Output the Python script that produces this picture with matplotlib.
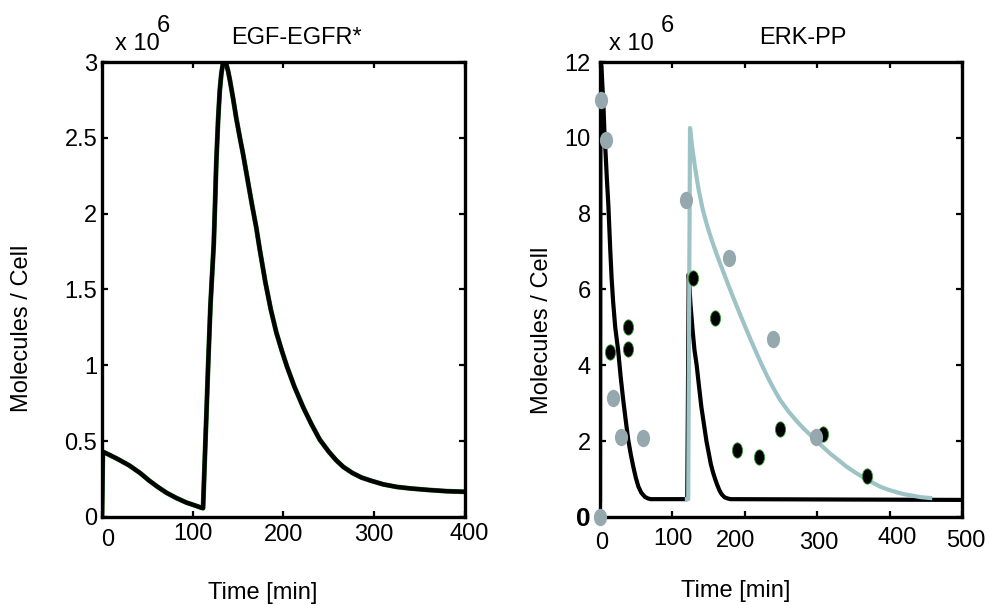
import numpy as np
import matplotlib
matplotlib.use("Agg")
import matplotlib.pyplot as plt
from matplotlib.path import Path
from matplotlib.transforms import Affine2D, ScaledTranslation

plt.rcParams['font.family'] = ['Liberation Sans', 'DejaVu Sans']

# EGF-EGFR* simulated curve (x 1e6 molecules / cell)
egfr_t = [0, 1, 8, 18, 30, 42, 52, 61, 71, 82, 93, 103, 109, 111.4,
          113, 115, 117, 119.5, 121.3, 123.2, 124.7, 126, 128, 129.8, 131.5, 133, 135.4,
          137, 139, 141, 144.5, 148, 152, 155.6, 160, 165, 170, 174, 180, 186, 192,
          198, 204, 212, 222, 231, 240, 250, 258, 266, 276, 286, 296, 310, 325, 340,
          360, 380, 400]
egfr_v = [0, 0.43, 0.41, 0.38, 0.34, 0.29, 0.24, 0.20, 0.16, 0.125, 0.095, 0.075, 0.062, 0.058,
          0.33, 0.66, 1.0, 1.39, 1.59, 1.80, 2.08, 2.34, 2.62, 2.81, 2.92, 2.98, 3.0,
          2.985, 2.94, 2.88, 2.76, 2.63, 2.50, 2.39, 2.24, 2.07, 1.91, 1.76, 1.55, 1.37, 1.22,
          1.10, 0.99, 0.86, 0.72, 0.61, 0.51, 0.43, 0.375, 0.33, 0.29, 0.26, 0.24, 0.215, 0.198, 0.188,
          0.178, 0.17, 0.166]

# ERK-PP simulated curves
erk_black_t = [0, 0.6, 2, 3.2, 4.6, 6, 7.8, 9.5, 11.5, 14, 16, 18, 21, 25, 28.5, 32, 35.5,
               39, 42.5, 46, 49.5, 53, 57, 62, 66, 70, 120, 120.5, 122.5, 125, 128, 130.5,
               133.5, 137, 140, 143.5, 147, 150, 153, 156, 159, 162, 165, 168, 172, 176, 180, 500]
erk_black_v = [0.45, 12.0, 11.9, 11.4, 10.9, 10.2, 9.55, 8.9, 8.23, 7.1, 6.3, 5.7, 5.0, 4.4, 3.7, 3.09, 2.55,
               2.03, 1.65, 1.32, 1.03, 0.8, 0.64, 0.53, 0.49, 0.47, 0.47, 0.47, 6.4, 5.6, 4.9, 4.4,
               4.0, 3.4, 2.9, 2.45, 2.0, 1.7, 1.4, 1.18, 1.0, 0.84, 0.7, 0.6, 0.52, 0.49, 0.47, 0.45]
erk_blue_t = [120, 121.8, 124.3, 127, 131, 136, 142, 148, 154, 160, 166, 172, 178, 184, 192, 200,
              208, 216, 223, 231, 240, 249, 260, 272, 283, 294, 306, 318, 330, 341, 352, 364,
              376, 387, 398, 410, 420, 432, 444, 456]
erk_blue_v = [0.47, 0.47, 10.26, 9.8, 9.25, 8.65, 8.1, 7.68, 7.32, 6.99, 6.68, 6.38, 6.08, 5.79, 5.41, 5.04,
              4.68, 4.33, 4.03, 3.71, 3.38, 3.08, 2.79, 2.52, 2.3, 2.1, 1.88, 1.67, 1.49, 1.32, 1.18, 1.04,
              0.91, 0.8, 0.72, 0.65, 0.6, 0.56, 0.52, 0.5]

# ERK-PP data points
gray_t = [1.4, 8.3, 119, 178.6, 18.4, 28.6, 59, 238.5, 299, 0]
gray_v = [11.0, 9.95, 8.36, 6.82, 3.13, 2.10, 2.09, 4.70, 2.12, 0]
black_t = [13.8, 38, 38, 129, 159, 189, 219, 249, 308.5, 369]
black_v = [4.34, 5.02, 4.43, 6.3, 5.24, 1.77, 1.59, 2.32, 2.19, 1.09]

left_xticks = [0, 100, 200, 300, 400]
left_yticks = [0, 0.5, 1, 1.5, 2, 2.5, 3]
right_xticks = [0, 100, 200, 300, 400, 500]
right_yticks = [0, 2, 4, 6, 8, 10, 12]

fig = plt.figure(figsize=(9.89, 6.05), dpi=100)
ax1 = fig.add_axes([0.1031, 0.1455, 0.367, 0.752])
ax2 = fig.add_axes([0.6067, 0.1455, 0.366, 0.752])

def style(ax, xpad, ypad):
    for s in ax.spines.values():
        s.set_linewidth(2.4)
    ax.tick_params(direction='in', top=True, right=True, length=4.5, width=1.6,
                   labelsize=17)
    ax.tick_params(axis='x', pad=xpad)
    ax.tick_params(axis='y', pad=ypad)

ell_gray = Path.unit_circle().transformed(Affine2D().scale(0.76, 1))
ell_black = Path.unit_circle().transformed(Affine2D().scale(0.66, 1))

# left panel
ax1.plot(egfr_t, egfr_v, color='#1f7a1f', lw=3.5, solid_joinstyle='round')
ax1.plot(egfr_t, egfr_v, color='black', lw=3.0, solid_joinstyle='round')
ax1.set_xlim(0, 400)
ax1.set_ylim(0, 3)
ax1.set_xticks(left_xticks)
ax1.set_yticks(left_yticks)
ax1.set_xticklabels([str(v) for v in left_xticks])
ax1.set_yticklabels(['0', '0.5', '1', '1.5', '2', '2.5', '3'])
style(ax1, 4.0, 3.4)

# right panel
ax2.plot(erk_black_t, erk_black_v, color='black', lw=3.0, solid_joinstyle='round', zorder=2)
ax2.plot(erk_blue_t, erk_blue_v, color='#9dc3c6', lw=3.0, solid_joinstyle='round', zorder=3)
ax2.plot(black_t, black_v, ls='none', marker=ell_black, ms=11, mfc='black',
         mec='#2e9a2e', mew=0.6, zorder=4)
ax2.plot(gray_t, gray_v, ls='none', marker=ell_gray, ms=12.5, mfc='#94a8ae',
         mec='none', zorder=5, clip_on=False)
ax2.set_xlim(0, 500)
ax2.set_ylim(0, 12)
ax2.set_xticks(right_xticks)
ax2.set_yticks(right_yticks)
ax2.set_xticklabels([str(v) for v in right_xticks])
ax2.set_yticklabels([str(v) for v in right_yticks])
style(ax2, 8.0, 6.5)
lab0 = ax2.get_yticklabels()[0]
lab0.set_fontweight('bold')
lab0.set_fontsize(19)

# small irregular offsets of x tick labels (pixels)
def shift(labels, offs):
    for lab, (dx, dy) in zip(labels, offs):
        lab.set_transform(lab.get_transform() + ScaledTranslation(dx / 100, -dy / 100, fig.dpi_scale_trans))

shift(ax1.get_xticklabels(), [(6, 6), (0, 0), (0, 1), (0, 1), (4, 0)])
shift(ax2.get_xticklabels(), [(2, 4), (1, 0), (-9, 2), (2, 4), (8, -1), (4, 2)])

# texts
for ax, xl, yl, title, tx, ox, ex, lx, ly in [
        (ax1, 0.443, -0.22, 'EGF-EGFR*', 0.537, 0.098, 0.169, -0.167, 0.415),
        (ax2, 0.376, -0.16, 'ERK-PP', 0.56, 0.086, 0.186, -0.163, 0.41)]:
    ax.text(xl, lx, 'Time [min]', transform=ax.transAxes, ha='center', va='center', fontsize=17)
    ax.text(yl, ly, 'Molecules / Cell', transform=ax.transAxes, ha='center', va='center',
            rotation=90, fontsize=17)
    ax.text(tx, 1.053, title, transform=ax.transAxes, ha='center', va='center', fontsize=17)
    ax.text(ox, 1.04, 'x 10', transform=ax.transAxes, ha='center', va='center', fontsize=17)
    ax.text(ex, 1.08, '6', transform=ax.transAxes, ha='center', va='center', fontsize=17)

fig.savefig('out.png', dpi=100)
